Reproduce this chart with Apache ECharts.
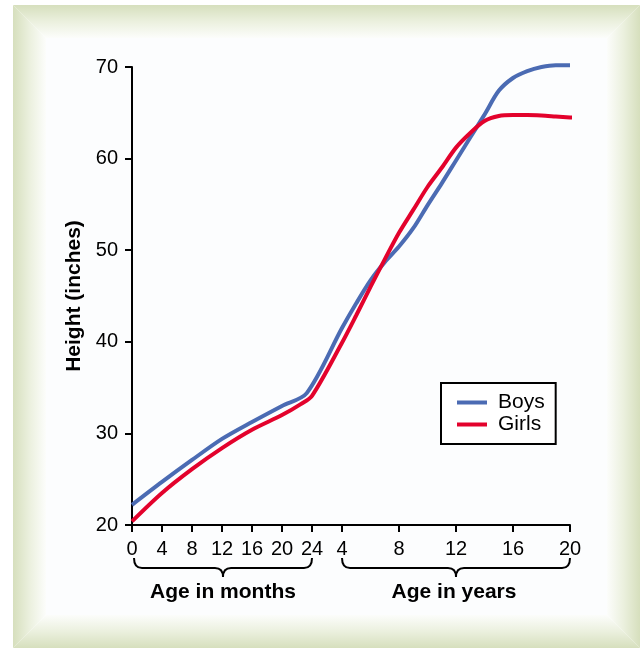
<!DOCTYPE html>
<html>
<head>
<meta charset="utf-8">
<script src="https://cdn.jsdelivr.net/npm/echarts@6/dist/echarts.min.js"></script>
<style>
html, body { margin:0; padding:0; background:#fff; }
#main { width:643px; height:650px; }
</style>
</head>
<body>
<div id="main"></div>
<script>
/// tick labels
var monthTicks = [0, 4, 8, 12, 16, 20, 24];
var yearTicks = [4, 8, 12, 16, 20];

/// boys: first part in months, second part in years
var boysMonths = [0, 4, 8, 12, 16, 20, 23.3];
var boysMonthH = [22.2, 24.7, 27.1, 29.4, 31.25, 33.0, 34.4];
var boysYears = [4, 5, 6, 7, 8, 9, 10, 11, 12, 13, 14, 15, 16, 17, 18, 19, 20];
var boysYearH = [41.5, 44.2, 46.7, 48.7, 50.4, 52.4, 54.9, 57.3, 59.8, 62.3, 64.8, 67.4, 68.8, 69.55, 70.0, 70.2, 70.2];

/// girls
var girlsMonths = [0, 4, 8, 12, 16, 20, 22.5, 24];
var girlsMonthH = [20.4, 23.5, 26.1, 28.4, 30.4, 32.0, 33.2, 34.1];
var girlsYears = [4, 5, 6, 7, 8, 9, 10, 11, 12, 13, 14, 15, 16, 17, 18, 19, 20, 20.85];
var girlsYearH = [39.9, 42.9, 46.0, 49.0, 51.9, 54.4, 56.9, 59.0, 61.2, 62.8, 64.1, 64.65, 64.75, 64.75, 64.7, 64.6, 64.5, 64.4];

/// shared x scale: 1 unit = 1 month, then a gap, then years
var YEAR_START = 28;   // where "4 years" sits
var YEAR_UNIT = 1.9;   // units per year
function yearToX(y){ return YEAR_START + (y - 4) * YEAR_UNIT; }
function xToLabel(v){
	if (v <= 24.5) return String(Math.round(v));
	return String(Math.round(4 + (v - YEAR_START) / YEAR_UNIT));
}

function buildSeriesData(months, monthH, years, yearH){
	var arr = [];
	for (var i = 0; i < months.length; i++) arr.push([months[i], monthH[i]]);
	for (var j = 0; j < years.length; j++) arr.push([yearToX(years[j]), yearH[j]]);
	return arr;
}

var xTickVals = monthTicks.slice();
for (var k = 0; k < yearTicks.length; k++) xTickVals.push(yearToX(yearTicks[k]));

var FONT = "'Liberation Sans', Arial, sans-serif";
var BLUE = '#4b6bb3';
var RED = '#e3022c';
var GREEN = '#d6dfbd';

/// background frame (bevel)
function frameGraphics(){
	var L = 13, T = 5, R = 640, B = 648, d = 33;
	function grad(x, y, x2, y2){
		return { type:'linear', x:x, y:y, x2:x2, y2:y2,
			colorStops:[{offset:0, color:GREEN}, {offset:0.5, color:'#ebf0de'}, {offset:1, color:'#fcfdfb'}] };
	}
	return [
		{ id:'inner', type:'rect', z:-100, silent:true, shape:{x:L+d, y:T+d, width:R-L-2*d, height:B-T-2*d}, style:{fill:'#fcfdfe'} },
		{ id:'ftop', type:'polygon', z:-100, silent:true, shape:{points:[[L,T],[R,T],[R-d,T+d],[L+d,T+d]]}, style:{fill:grad(0,0,0,1)} },
		{ id:'fbot', type:'polygon', z:-100, silent:true, shape:{points:[[L,B],[L+d,B-d],[R-d,B-d],[R,B]]}, style:{fill:grad(0,1,0,0)} },
		{ id:'fleft', type:'polygon', z:-100, silent:true, shape:{points:[[L,T],[L+d,T+d],[L+d,B-d],[L,B]]}, style:{fill:grad(0,0,1,0)} },
		{ id:'fright', type:'polygon', z:-100, silent:true, shape:{points:[[R,T],[R,B],[R-d,B-d],[R-d,T+d]]}, style:{fill:grad(1,0,0,0)} }
	];
}

var myChart = echarts.init(document.getElementById('main'));
var option = {
	backgroundColor: '#ffffff',
	animation: false,
	textStyle: { fontFamily: FONT },
	graphic: frameGraphics(),
	grid: { left:132, top:67, width:438, height:458, containLabel:false },
	legend: {
		data: ['Boys', 'Girls'],
		orient: 'vertical',
		left: 441, top: 383,
		backgroundColor: '#ffffff',
		borderColor: '#000', borderWidth: 2, borderRadius: 0,
		padding: [9, 11, 9, 16],
		itemGap: 1,
		itemWidth: 30, itemHeight: 4,
		icon: 'rect',
		textStyle: { fontSize: 21, color:'#000', fontFamily: FONT, lineHeight: 20, padding:[0,0,0,6] }
	},
	xAxis: {
		type: 'value',
		min: 0, max: yearToX(20),
		splitLine: { show:false },
		axisLine: { show:true, lineStyle:{ color:'#000', width:2 } },
		axisTick: { show:true, length:7, customValues: xTickVals, lineStyle:{ color:'#000', width:2 } },
		axisLabel: { customValues: xTickVals, margin:14, fontSize:20, color:'#000', fontFamily: FONT, formatter: xToLabel }
	},
	yAxis: {
		type: 'value',
		min: 20, max: 70, interval: 10,
		name: 'Height (inches)',
		nameLocation: 'middle',
		nameGap: 44,
		nameTextStyle: { fontSize:21, fontWeight:'bold', color:'#000', fontFamily: FONT },
		splitLine: { show:false },
		axisLine: { show:true, lineStyle:{ color:'#000', width:2 } },
		axisTick: { show:true, length:7, lineStyle:{ color:'#000', width:2 } },
		axisLabel: { margin:14, fontSize:20, color:'#000', fontFamily: FONT }
	},
	series: [
		{
			name: 'Boys', type: 'line', smooth: 0.3, showSymbol: false, clip: false,
			color: BLUE, lineStyle: { width:4, color: BLUE },
			data: buildSeriesData(boysMonths, boysMonthH, boysYears, boysYearH)
		},
		{
			name: 'Girls', type: 'line', smooth: 0.3, showSymbol: false, clip: false,
			color: RED, lineStyle: { width:4, color: RED },
			data: buildSeriesData(girlsMonths, girlsMonthH, girlsYears, girlsYearH)
		}
	]
};
myChart.setOption(option);

/// curly brace made of quadratic curves and lines
function braceParts(id, x0, x1, y0){
	var mid = (x0 + x1) / 2, y1 = y0 + 10, y2 = y0 + 19, r = 8;
	var st = { stroke:'#000', lineWidth:2, fill:null };
	function curve(n, ax, ay, bx, by, cx, cy){
		return { id:id + n, type:'bezierCurve', silent:true, shape:{ x1:ax, y1:ay, x2:bx, y2:by, cpx1:cx, cpy1:cy }, style:st };
	}
	function seg(n, ax, ay, bx, by){
		return { id:id + n, type:'line', silent:true, shape:{ x1:ax, y1:ay, x2:bx, y2:by }, style:st };
	}
	return [
		curve('c1', x0, y0, x0 + r, y1, x0, y1),
		seg('l1', x0 + r, y1, mid - r, y1),
		curve('c2', mid - r, y1, mid, y2, mid, y1),
		curve('c3', mid, y2, mid + r, y1, mid, y1),
		seg('l2', mid + r, y1, x1 - r, y1),
		curve('c4', x1 - r, y1, x1, y0, x1, y1)
	];
}

/// braces and their labels, placed through the axis scale
function InitBraces(){
	var pm0 = myChart.convertToPixel({xAxisIndex:0}, monthTicks[0]) + 2;
	var pm1 = myChart.convertToPixel({xAxisIndex:0}, monthTicks[monthTicks.length - 1]);
	var py0 = myChart.convertToPixel({xAxisIndex:0}, yearToX(yearTicks[0]));
	var py1 = myChart.convertToPixel({xAxisIndex:0}, yearToX(yearTicks[yearTicks.length - 1]));
	var top = 558;
	var g = frameGraphics();
	g = g.concat(braceParts('bm', pm0, pm1, top));
	g = g.concat(braceParts('by', py0, py1, top));
	g.push({ id:'lblM', type:'text', silent:true, x:(pm0 + pm1) / 2, y:592,
		style:{ text:'Age in months', fontSize:21, fontWeight:'bold', fontFamily:FONT, fill:'#000', align:'center', verticalAlign:'middle' } });
	g.push({ id:'lblY', type:'text', silent:true, x:(py0 + py1) / 2 - 2, y:592,
		style:{ text:'Age in years', fontSize:21, fontWeight:'bold', fontFamily:FONT, fill:'#000', align:'center', verticalAlign:'middle' } });
	myChart.setOption({ graphic: g });
}
InitBraces();
</script>
</body>
</html>
